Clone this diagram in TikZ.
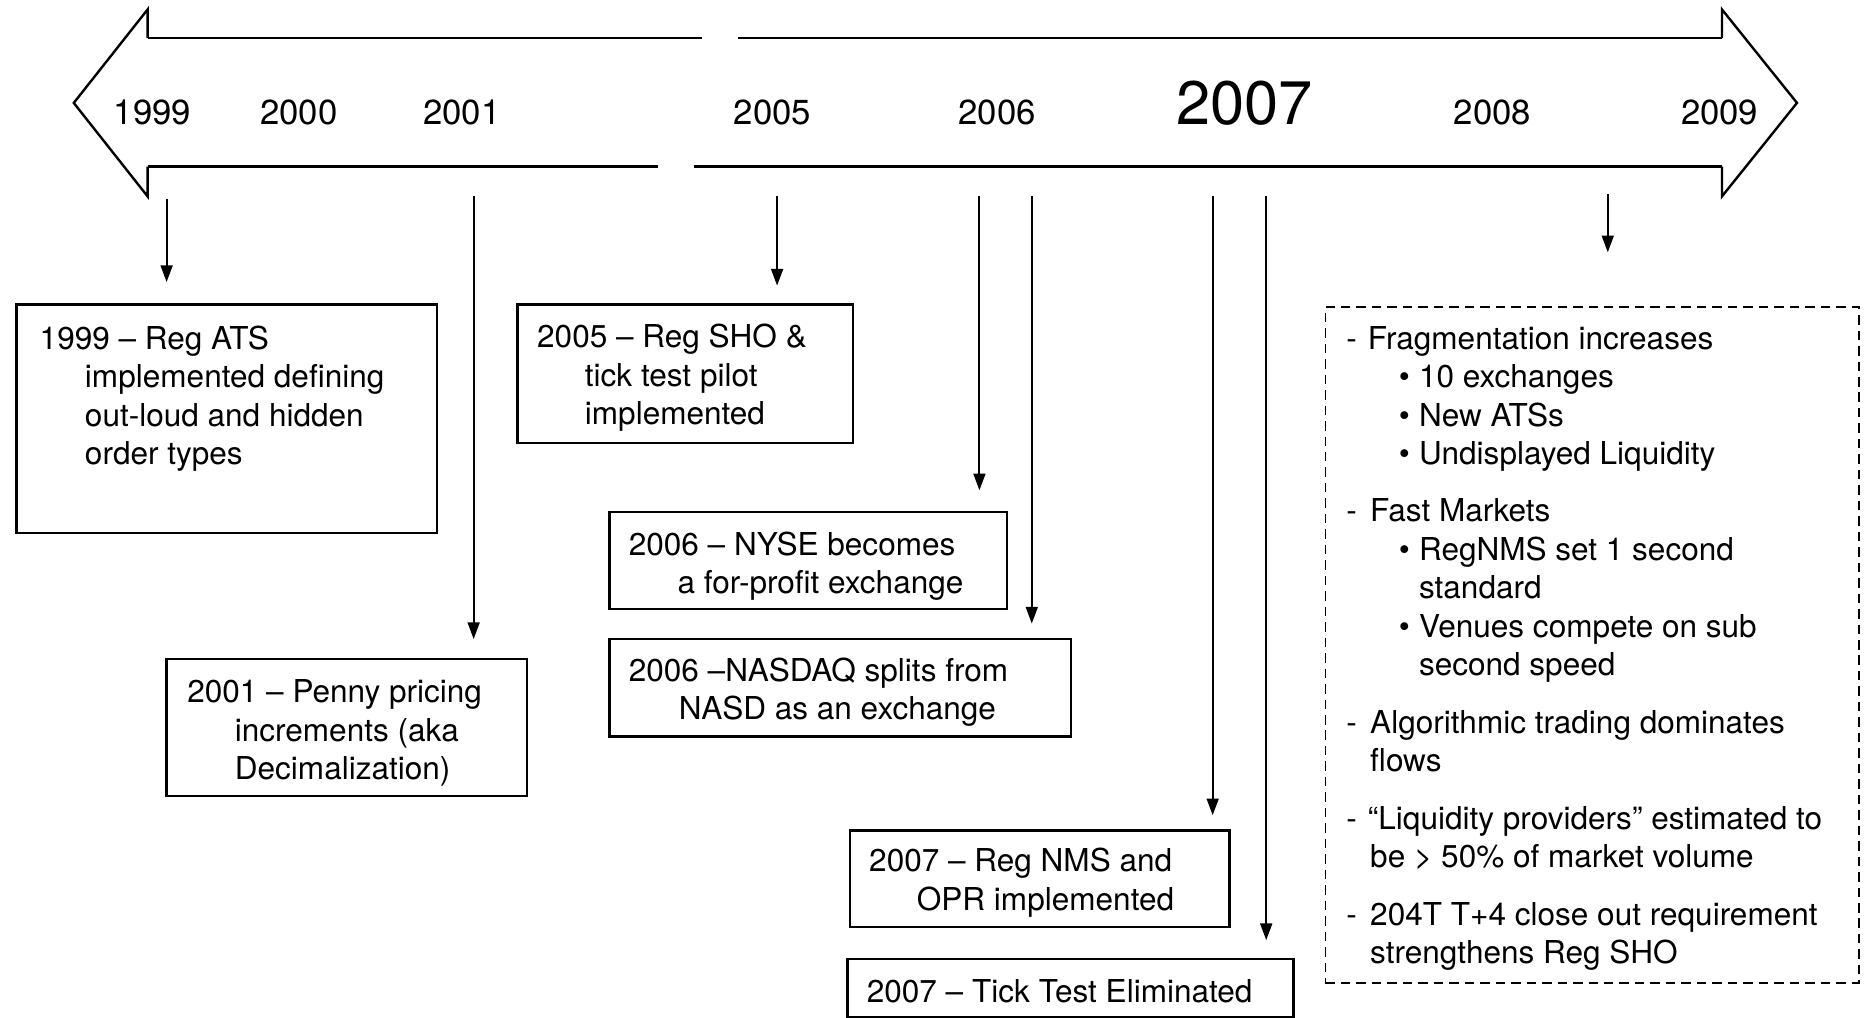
\documentclass[tikz,border=0pt]{standalone}
\usepackage{fontspec}
\setmainfont{TeX Gyre Heros}
\usetikzlibrary{arrows.meta}
\begin{document}
\begin{tikzpicture}[x=0.5pt,y=-0.5pt,
  boxfont/.style={font=\fontsize{13.25pt}{16.15pt}\selectfont},
  evbox/.style={draw, line width=1pt, anchor=north west, inner sep=0pt},
  evtext/.style={boxfont, anchor=north west, inner sep=0pt, align=left},
  yr/.style={font=\fontsize{14.6pt}{17pt}\selectfont, anchor=base, inner sep=0pt},
  bigyr/.style={font=\fontsize{25.8pt}{30pt}\selectfont, anchor=base, inner sep=0pt},
  conn/.style={line width=0.8pt, -{Triangle[length=7pt,width=5pt]}},
  bigarrow/.style={line width=1pt, line join=miter},
]
\useasboundingbox (0,0) rectangle (1568,855);
\fill[white] (0,0) rectangle (1568,855);

% big timeline arrow
\draw[bigarrow] (124,32) -- (124,8) -- (62,86.5) -- (124,165) -- (124,140);
\draw[bigarrow] (1447,32) -- (1447,8) -- (1510,86.5) -- (1447,165) -- (1447,140);
\draw[bigarrow] (124,32) -- (590,32);
\draw[bigarrow] (620,32) -- (1447,32);
\draw[bigarrow] (124,140) -- (553,140);
\draw[bigarrow] (583,140) -- (1447,140);

% years
\node[yr] (y1999) at (128,105) {1999};
\node[yr] (y2000) at (251,105) {2000};
\node[yr] (y2001) at (388,105) {2001};
\node[yr] (y2005) at (649,105) {2005};
\node[yr] (y2006) at (838,105) {2006};
\node[bigyr] (y2007) at (1046,105) {2007};
\node[yr] (y2008) at (1254,105) {2008};
\node[yr] (y2009) at (1445,105) {2009};

% event boxes
\node[evbox, minimum width=176.5pt, minimum height=96pt] (b1999) at (13,255) {};
\node[evtext] (t1999) at (33,270.4) {\strut 1999 -- Reg ATS\\
\hspace*{19pt}implemented defining\\
\hspace*{19pt}out-loud and hidden\\
\hspace*{19pt}order types};

\node[evbox, minimum width=151.5pt, minimum height=57.5pt] (b2001) at (139,553) {};
\node[evtext] (t2001) at (157,567.4) {\strut 2001 -- Penny pricing\\
\hspace*{20pt}increments (aka\\
\hspace*{20pt}Decimalization)};

\node[evbox, minimum width=141pt, minimum height=58pt] (b2005) at (434,255) {};
\node[evtext] (t2005) at (451,269.4) {\strut 2005 -- Reg SHO \&\\
\hspace*{20pt}tick test pilot\\
\hspace*{20pt}implemented};

\node[evbox, minimum width=167pt, minimum height=41pt] (bnyse) at (511,429) {};
\node[evtext] (tnyse) at (528,443.4) {\strut 2006 -- NYSE becomes\\
\hspace*{20.5pt}a for-profit exchange};

\node[evbox, minimum width=194pt, minimum height=41pt] (bnasdaq) at (511,536) {};
\node[evtext] (tnasdaq) at (528,549.4) {\strut 2006 --NASDAQ splits from\\
\hspace*{21pt}NASD as an exchange};

\node[evbox, minimum width=159.5pt, minimum height=40.5pt] (bnms) at (713,697) {};
\node[evtext] (tnms) at (730,709.4) {\strut 2007 -- Reg NMS and\\
\hspace*{20pt}OPR implemented};

\node[evbox, minimum width=187.5pt, minimum height=24.5pt] (btick) at (711,805) {};
\node[evtext] (ttick) at (728,819.4) {\strut 2007 -- Tick Test Eliminated};

% dashed box
\node[evbox, dash pattern=on 4pt off 2.5pt, line width=0.8pt, minimum width=224pt, minimum height=284pt] (bnow) at (1113,257) {};
\node[evtext] (tnow) at (1131,270.4) {\strut\makebox[9pt][l]{-}Fragmentation increases\\
\hspace*{22pt}\makebox[8.5pt][l]{\textbullet}10 exchanges\\
\hspace*{22pt}\makebox[8.5pt][l]{\textbullet}New ATSs\\
\hspace*{22pt}\makebox[8.5pt][l]{\textbullet}Undisplayed Liquidity\\[8pt]
\makebox[10pt][l]{-}Fast Markets\\
\hspace*{22pt}\makebox[8.5pt][l]{\textbullet}RegNMS set 1 second\\
\hspace*{30.5pt}standard\\
\hspace*{22pt}\makebox[8.5pt][l]{\textbullet}Venues compete on sub\\
\hspace*{30.5pt}second speed\\[8pt]
\makebox[10pt][l]{-}Algorithmic trading dominates\\
\hspace*{10pt}flows\\[8pt]
\makebox[9pt][l]{-}``Liquidity providers'' estimated to\\
\hspace*{10pt}be \textgreater{} 50\% of market volume\\[8pt]
\makebox[10pt][l]{-}204T T+4 close out requirement\\
\hspace*{10pt}strengthens Reg SHO};

% connectors
\coordinate (s1) at (140,167);  \coordinate (e1) at (140,237);
\coordinate (s2) at (398,165);  \coordinate (e2) at (398,537);
\coordinate (s3) at (653,165);  \coordinate (e3) at (653,240);
\coordinate (s4) at (823,165);  \coordinate (e4) at (823,412);
\coordinate (s5) at (867,165);  \coordinate (e5) at (867,524);
\coordinate (s6) at (1019,165); \coordinate (e6) at (1019,685);
\coordinate (s7) at (1064,165); \coordinate (e7) at (1064,790);
\coordinate (s8) at (1351,163); \coordinate (e8) at (1351,212);
\foreach \i in {1,...,8} {\draw[conn] (s\i) -- (e\i);}
\end{tikzpicture}
\end{document}
